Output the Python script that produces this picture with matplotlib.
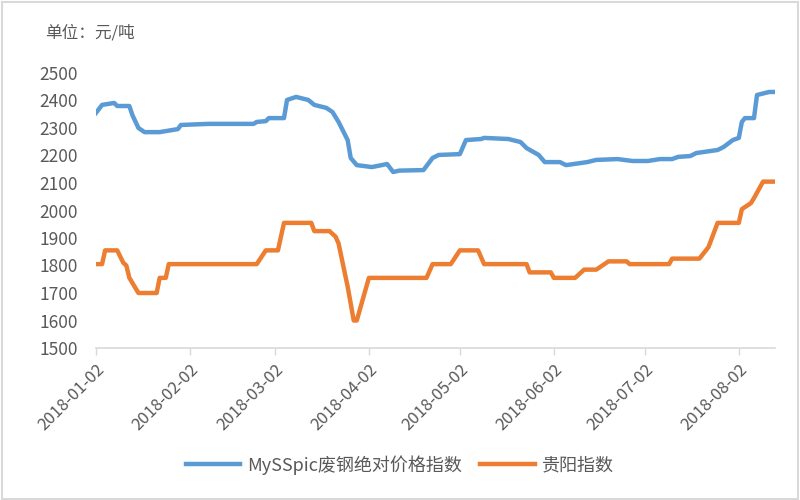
import numpy as np
import pandas as pd
import matplotlib
matplotlib.use("Agg")
import matplotlib.pyplot as plt
from matplotlib.patches import Rectangle

plt.rcParams['font.family'] = ['Noto Sans CJK SC', 'DejaVu Sans']

# blue series: MySSpic scrap steel absolute price index
blue_dates = ["2018-01-02", "2018-01-04", "2018-01-08", "2018-01-09", "2018-01-13",
              "2018-01-14", "2018-01-16", "2018-01-18", "2018-01-23", "2018-01-29",
              "2018-01-30", "2018-02-08", "2018-02-23", "2018-02-24", "2018-02-27",
              "2018-02-28", "2018-03-05", "2018-03-06", "2018-03-09", "2018-03-13",
              "2018-03-15", "2018-03-19", "2018-03-21", "2018-03-23", "2018-03-26",
              "2018-03-27", "2018-03-29", "2018-04-03", "2018-04-08", "2018-04-10",
              "2018-04-12", "2018-04-20", "2018-04-23", "2018-04-25", "2018-05-02",
              "2018-05-04", "2018-05-09", "2018-05-10", "2018-05-18", "2018-05-22",
              "2018-05-24", "2018-05-28", "2018-05-30", "2018-06-04", "2018-06-06",
              "2018-06-13", "2018-06-16", "2018-06-23", "2018-06-28", "2018-07-03",
              "2018-07-07", "2018-07-11", "2018-07-13", "2018-07-17", "2018-07-19",
              "2018-07-26", "2018-07-28", "2018-07-31", "2018-08-02", "2018-08-03",
              "2018-08-04", "2018-08-07", "2018-08-08", "2018-08-12", "2018-08-14"]
blue_values = [2355, 2384, 2391, 2380, 2380, 2347, 2300, 2285, 2285, 2296,
               2311, 2315, 2315, 2322, 2325, 2336, 2336, 2402, 2413, 2402,
               2384, 2373, 2358, 2322, 2256, 2191, 2165, 2158, 2169, 2140,
               2145, 2147, 2191, 2202, 2205, 2256, 2260, 2264, 2260, 2249,
               2227, 2202, 2176, 2176, 2165, 2176, 2184, 2187, 2180, 2180,
               2187, 2187, 2195, 2198, 2209, 2220, 2231, 2256, 2264, 2322,
               2336, 2336, 2420, 2431, 2431]

# orange series
orange_dates = ["2018-01-02", "2018-01-04", "2018-01-05", "2018-01-09", "2018-01-11",
                "2018-01-12", "2018-01-13", "2018-01-16", "2018-01-22", "2018-01-23",
                "2018-01-25", "2018-01-26", "2018-02-24", "2018-02-27", "2018-03-03",
                "2018-03-05", "2018-03-14", "2018-03-15", "2018-03-20", "2018-03-22",
                "2018-03-23", "2018-03-26", "2018-03-28", "2018-03-29", "2018-04-02",
                "2018-04-21", "2018-04-23", "2018-04-29", "2018-05-02", "2018-05-08",
                "2018-05-10", "2018-05-24", "2018-05-25", "2018-06-01", "2018-06-02",
                "2018-06-09", "2018-06-12", "2018-06-16", "2018-06-20", "2018-06-26",
                "2018-06-27", "2018-07-10", "2018-07-11", "2018-07-20", "2018-07-23",
                "2018-07-26", "2018-08-02", "2018-08-03", "2018-08-06", "2018-08-07",
                "2018-08-10", "2018-08-14"]
orange_values = [1805, 1805, 1855, 1855, 1810, 1800, 1755, 1700, 1700, 1755,
                 1755, 1805, 1805, 1855, 1855, 1955, 1955, 1925, 1925, 1905,
                 1880, 1723, 1600, 1600, 1755, 1755, 1805, 1805, 1855, 1855,
                 1805, 1805, 1775, 1775, 1755, 1755, 1785, 1785, 1815, 1815,
                 1805, 1805, 1825, 1825, 1867, 1955, 1955, 2005, 2027, 2045,
                 2105, 2105]

tick_labels = ["2018-01-02", "2018-02-02", "2018-03-02", "2018-04-02",
               "2018-05-02", "2018-06-02", "2018-07-02", "2018-08-02"]
series_names = ["MySSpic废钢绝对价格指数", "贵阳指数"]

blue_x = pd.to_datetime(blue_dates)
orange_x = pd.to_datetime(orange_dates)

fig = plt.figure(figsize=(8, 5), dpi=100)
ax = fig.add_axes([0.12, 0.304, 0.849, 0.55])

ax.plot(blue_x, blue_values, color="#5B9BD5", lw=3.2, label=series_names[0],
        solid_joinstyle="round")
ax.plot(orange_x, orange_values, color="#ED7D31", lw=3.2, label=series_names[1],
        solid_joinstyle="round")

ax.set_ylim(1500, 2500)
ax.set_yticks(np.arange(1500, 2501, 100))
ax.set_xlim(pd.Timestamp("2018-01-02"), pd.Timestamp("2018-08-14"))
ax.set_xticks(pd.to_datetime(tick_labels))
ax.set_xticklabels(tick_labels, rotation=45, ha="right", rotation_mode="anchor")

for s in ["top", "right", "left"]:
    ax.spines[s].set_visible(False)
ax.spines["bottom"].set_color("#D9D9D9")
ax.spines["bottom"].set_linewidth(1.2)
ax.tick_params(axis="y", length=0, pad=13, labelsize=12.5, labelcolor="#595959")
ax.tick_params(axis="x", length=5, width=1, color="#D9D9D9", pad=4,
               labelsize=12, labelcolor="#595959")

fig.text(0.056, 0.935, "单位：元/吨", fontsize=12, color="#595959", va="center")

fig.legend(loc="center", bbox_to_anchor=(0.5, 0.07), ncol=2, frameon=False,
           fontsize=13, handlelength=3, columnspacing=1.0, handletextpad=0.4,
           labelcolor="#595959")

# light border around the chart
fig.patches.append(Rectangle((0.002, 0.003), 0.996, 0.994, transform=fig.transFigure,
                             fill=False, edgecolor="#D9D9D9", lw=1.5))

fig.savefig("out.png", dpi=100)
